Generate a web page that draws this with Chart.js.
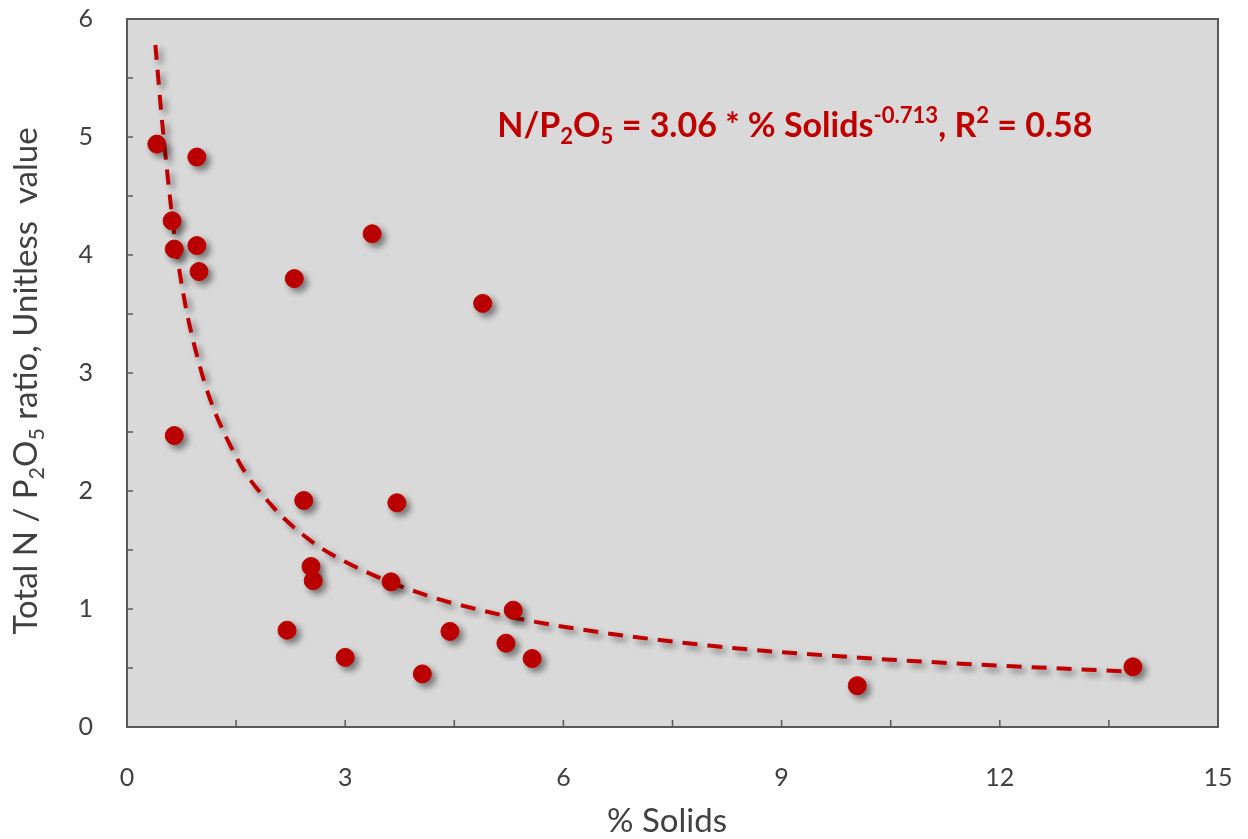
<!DOCTYPE html>
<html>
<head>
<meta charset="utf-8">
<script src="https://cdn.jsdelivr.net/npm/chart.js@4.4.1/dist/chart.umd.min.js"></script>
<style>
  html, body { margin: 0; padding: 0; background: #fff; }
  #wrap { width: 1248px; height: 839px; }
</style>
</head>
<body>
<div id="wrap"><canvas id="chart"></canvas></div>
<script>
// measured points (% solids vs N/P2O5)
const solids = [0.41, 0.96, 0.62, 0.65, 0.96, 0.99, 2.30, 3.37, 4.89, 0.65, 2.43, 3.71,
  2.53, 2.56, 3.63, 5.31, 2.20, 4.44, 5.21, 3.00, 5.57, 4.06, 10.04, 13.83]
const ratio = [4.94, 4.83, 4.29, 4.05, 4.08, 3.86, 3.80, 4.18, 3.59, 2.47, 1.92, 1.90,
  1.36, 1.24, 1.23, 0.99, 0.82, 0.81, 0.71, 0.59, 0.58, 0.45, 0.35, 0.51]

// trend line
const trendX = [0.39, 0.5, 0.7, 1, 1.5, 2, 2.5, 3, 4, 5, 6, 8, 10, 12, 13.8]
const trendY = [5.78, 5.02, 3.95, 3.06, 2.29, 1.87, 1.59, 1.40, 1.14, 0.97, 0.85, 0.69, 0.59, 0.52, 0.47]

const xTicks = [0, 3, 6, 9, 12, 15]
const yTicks = [0, 1, 2, 3, 4, 5, 6]

const red = '#c00000'
const textGray = '#404040'
const fontFam = 'Lato, "Open Sans", sans-serif'

// draws text with sub/superscripts, segs = [[text, kind]]
function richWidth(ctx, segs, size, weight) {
  let w = 0
  segs.forEach(([t, k]) => {
    let s = k ? size * 0.65 : size
    ctx.font = weight + ' ' + s + 'px ' + fontFam
    w += ctx.measureText(t).width
  })
  return w
}
function drawRich(ctx, segs, x, y, size, weight) {
  segs.forEach(([t, k]) => {
    let s = k ? size * 0.65 : size
    let dy = 0
    if (k === 'sub') dy = size * 0.22
    if (k === 'sup') dy = -size * 0.4
    ctx.font = weight + ' ' + s + 'px ' + fontFam
    ctx.fillText(t, x, y + dy)
    x += ctx.measureText(t).width
  })
}

const plotDecor = {
  id: 'plotDecor',
  beforeDraw(chart) {
    const { ctx, chartArea: a } = chart
    ctx.save()
    ctx.fillStyle = '#d9d9d9'
    ctx.fillRect(a.left, a.top, a.right - a.left, a.bottom - a.top)
    ctx.restore()
  },
  beforeDatasetsDraw(chart) {
    const { ctx, chartArea: a, scales } = chart
    ctx.save()
    ctx.strokeStyle = '#595959'
    ctx.lineWidth = 2
    ctx.strokeRect(a.left, a.top, a.right - a.left, a.bottom - a.top)
    // inward ticks incl. minor ones
    ctx.lineWidth = 1.5
    ctx.beginPath()
    for (let v = 0.5; v < 6; v += 0.5) {
      let py = scales.y.getPixelForValue(v)
      ctx.moveTo(a.left, py)
      ctx.lineTo(a.left + 6, py)
    }
    for (let v = 1.5; v < 15; v += 1.5) {
      let px = scales.x.getPixelForValue(v)
      ctx.moveTo(px, a.bottom)
      ctx.lineTo(px, a.bottom - 7)
    }
    ctx.stroke()

    // equation label
    ctx.fillStyle = red
    ctx.textBaseline = 'alphabetic'
    ctx.textAlign = 'left'
    drawRich(ctx, [['N/P'], ['2', 'sub'], ['O'], ['5', 'sub'], [' = 3.06 * % Solids'],
      ['-0.713', 'sup'], [', R'], ['2', 'sup'], [' = 0.58']],
      scales.x.getPixelForValue(5.09), scales.y.getPixelForValue(5.0), 34, 'bold')

    // axis titles
    ctx.fillStyle = textGray
    const ySegs = [['Total N / P'], ['2', 'sub'], ['O'], ['5', 'sub'], [' ratio, Unitless  value']]
    let w = richWidth(ctx, ySegs, 33, 'normal')
    ctx.translate(37, 381)
    ctx.rotate(-Math.PI / 2)
    drawRich(ctx, ySegs, -w / 2, 0, 33, 'normal')
    ctx.restore()

    ctx.save()
    ctx.fillStyle = textGray
    ctx.font = 'normal 33px ' + fontFam
    ctx.textAlign = 'center'
    ctx.fillText('% Solids', 667, 832)
    ctx.restore()
  },
  beforeDatasetDraw(chart) {
    const ctx = chart.ctx
    ctx.save()
    ctx.shadowColor = 'rgba(0,0,0,0.45)'
    ctx.shadowBlur = 6
    ctx.shadowOffsetX = 4
    ctx.shadowOffsetY = 4
  },
  afterDatasetDraw(chart) {
    chart.ctx.restore()
  },
}

const ctx = document.getElementById('chart').getContext('2d')
new Chart(ctx, {
  type: 'scatter',
  data: {
    datasets: [
      {
        data: solids.map((x, i) => ({ x: x, y: ratio[i] })),
        backgroundColor: red,
        borderColor: red,
        pointRadius: 9,
        pointHoverRadius: 9,
        order: 0,
      },
      {
        type: 'line',
        data: trendX.map((x, i) => ({ x: x, y: trendY[i] })),
        borderColor: red,
        borderWidth: 4,
        borderDash: [15, 10],
        pointRadius: 0,
        fill: false,
        cubicInterpolationMode: 'monotone',
        order: 1,
      },
    ],
  },
  options: {
    responsive: true,
    maintainAspectRatio: false,
    animation: false,
    layout: { padding: { top: 19, right: 30, left: 0, bottom: 0 } },
    plugins: {
      legend: { display: false },
      tooltip: { enabled: false },
    },
    scales: {
      x: {
        type: 'linear',
        min: 0,
        max: 15,
        grid: { display: false },
        border: { display: false },
        afterBuildTicks: (s) => { s.ticks = xTicks.map(v => ({ value: v })) },
        afterFit: (s) => {
          s.height = 112
          s.paddingLeft = 0
          s.paddingRight = 0
        },
        ticks: { color: textGray, font: { size: 25, family: fontFam }, padding: 28 },
      },
      y: {
        min: 0,
        max: 6,
        grid: { display: false },
        border: { display: false },
        afterBuildTicks: (s) => { s.ticks = yTicks.map(v => ({ value: v })) },
        afterFit: (s) => {
          s.width = 127
          s.paddingTop = 0
          s.paddingBottom = 0
        },
        ticks: { color: textGray, font: { size: 25, family: fontFam }, padding: 26 },
      },
    },
  },
  plugins: [plotDecor],
})
</script>
</body>
</html>
